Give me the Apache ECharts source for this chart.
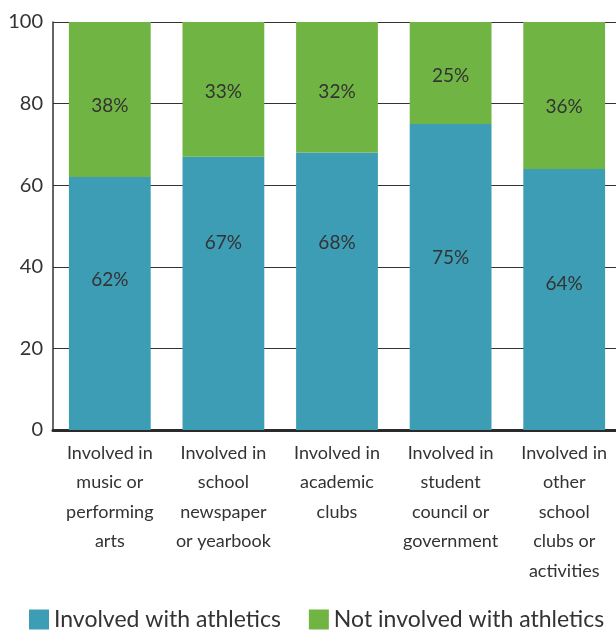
<!DOCTYPE html>
<html><head><meta charset="utf-8">
<script src="https://cdn.jsdelivr.net/npm/echarts@6/dist/echarts.min.js"></script>
<style>html,body{margin:0;padding:0;background:#fff;overflow:hidden}#c{width:621px;height:630px}</style>
</head><body><div id="c"></div>
<script>
const categories = [
  "Involved in\nmusic or\nperforming\narts",
  "Involved in\nschool\nnewspaper\nor yearbook",
  "Involved in\nacademic\nclubs",
  "Involved in\nstudent\ncouncil or\ngovernment",
  "Involved in\nother\nschool\nclubs or\nactivities"
];
const athletics = [62, 67, 68, 75, 64];
const notAthletics = [38, 33, 32, 25, 36];
const yTicks = [0, 20, 40, 60, 80, 100];

// label vertical offsets (styling only)
const blueLabelOffsets = [-24, -50, -48, -19, -16];
const greenLabelOffsets = [6, 3, 5, 3, 11];

const FONT = 'Lato';
const chart = echarts.init(document.getElementById('c'), null, {renderer: 'canvas'});
function mk(vals, offs) {
  return vals.map((v, i) => ({
    value: v,
    label: {offset: [0, offs[i]]}
  }));
}
chart.setOption({
  animation: false,
  textStyle: {fontFamily: FONT},
  grid: {left: 53, top: 22, right: 0, bottom: 200, containLabel: false},
  legend: {
    left: 24, bottom: -6, itemWidth: 20, itemHeight: 20, itemGap: 28,
    icon: 'rect',
    textStyle: {fontSize: 23, color: '#333', fontFamily: FONT},
    data: ['Involved with athletics', 'Not involved with athletics']
  },
  xAxis: {
    type: 'category', data: categories,
    axisLine: {lineStyle: {color: '#2a2a2a', width: 3}},
    axisTick: {show: false},
    axisLabel: {fontSize: 18, lineHeight: 29.5, color: '#333', margin: 8, interval: 0, fontFamily: FONT}
  },
  yAxis: {
    type: 'value', min: yTicks[0], max: yTicks[yTicks.length - 1], interval: 20,
    axisLine: {show: true, lineStyle: {color: '#333', width: 1.5}},
    axisTick: {show: false},
    axisLabel: {fontSize: 20, color: '#333', margin: 10, fontFamily: FONT},
    splitLine: {show: true, lineStyle: {color: '#333', width: 1}}
  },
  series: [
    {
      name: 'Involved with athletics', type: 'bar', stack: 's', barWidth: '72%',
      itemStyle: {color: '#3c9db5'},
      label: {show: true, position: 'inside', formatter: '{c}%', fontSize: 19, color: '#333', fontFamily: FONT},
      data: mk(athletics, blueLabelOffsets)
    },
    {
      name: 'Not involved with athletics', type: 'bar', stack: 's', barWidth: '72%',
      itemStyle: {color: '#70b443'},
      label: {show: true, position: 'inside', formatter: '{c}%', fontSize: 19, color: '#333', fontFamily: FONT},
      data: mk(notAthletics, greenLabelOffsets)
    }
  ]
});
</script></body></html>
